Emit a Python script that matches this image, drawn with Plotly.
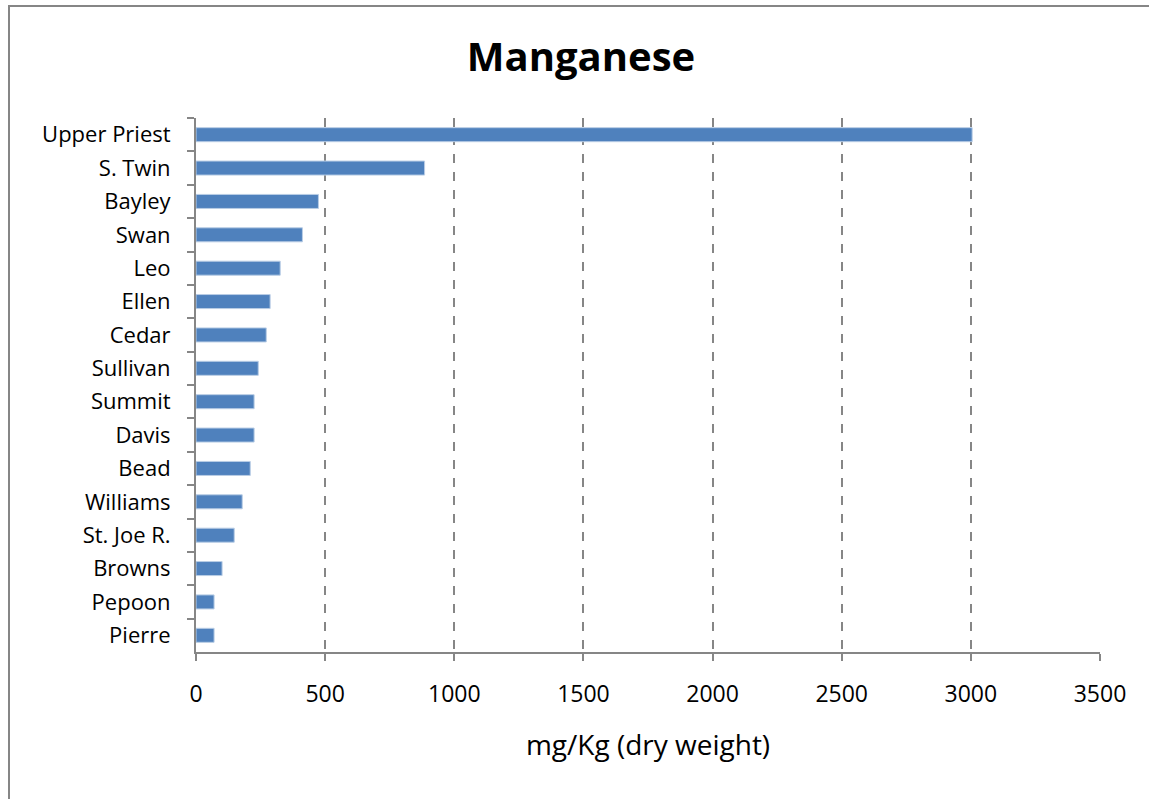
import plotly.graph_objects as go

sites = ["Upper Priest", "S. Twin", "Bayley", "Swan", "Leo", "Ellen", "Cedar", "Sullivan",
         "Summit", "Davis", "Bead", "Williams", "St. Joe R.", "Browns", "Pepoon", "Pierre"]
manganese = [3005, 885, 474, 412, 326, 287, 272, 241, 225, 225, 210, 179, 148, 101, 70, 70]
x_ticks = [0, 500, 1000, 1500, 2000, 2500, 3000, 3500]

FONT = "'Open Sans', Lato, sans-serif"
GRAY = "#868686"

fig = go.Figure(go.Bar(
    x=manganese, y=sites, orientation="h", width=0.42,
    marker=dict(color="#4F81BD", line=dict(color="#B9CDE5", width=1)),
))

fig.update_layout(
    width=1149, height=799,
    margin=dict(l=196, r=49, t=118, b=147),
    paper_bgcolor="white", plot_bgcolor="white",
    showlegend=False,
    font=dict(family=FONT, size=22, color="black"),
    title=dict(text="<b>Manganese</b>", x=(581 - 196) / 904, xref="paper", xanchor="center",
               y=1 - 57 / 799, yanchor="middle", yref="container",
               font=dict(size=40, family=FONT, color="black")),
    xaxis=dict(range=[0, 3500], tickvals=x_ticks, ticktext=[str(v) for v in x_ticks],
               showgrid=True, gridcolor=GRAY, griddash="dash", gridwidth=1.5,
               showline=True, linecolor=GRAY, linewidth=2,
               ticks="outside", ticklen=7, tickcolor=GRAY, tickwidth=2,
               tickfont=dict(size=23, family=FONT), ticklabelstandoff=13,
               title=dict(text="mg/Kg (dry weight)", font=dict(size=28, family=FONT), standoff=28),
               zeroline=False, fixedrange=True),
    yaxis=dict(autorange="reversed", type="category",
               showline=True, linecolor=GRAY, linewidth=2,
               ticks="outside", ticklen=7, tickcolor=GRAY, tickwidth=2, tickson="boundaries",
               tickfont=dict(size=22, family=FONT), ticklabelstandoff=19,
               showgrid=False, fixedrange=True),
    shapes=[dict(type="rect", xref="paper", yref="paper",
                 x0=(9 - 196) / 904, x1=(1160 - 196) / 904,
                 y0=(652 - 810) / 534, y1=(652 - 6) / 534,
                 line=dict(color=GRAY, width=2), fillcolor="rgba(0,0,0,0)", layer="below")],
)

fig.write_html("out.html", config={"displayModeBar": False},
               post_script="document.body.style.margin='0';")
